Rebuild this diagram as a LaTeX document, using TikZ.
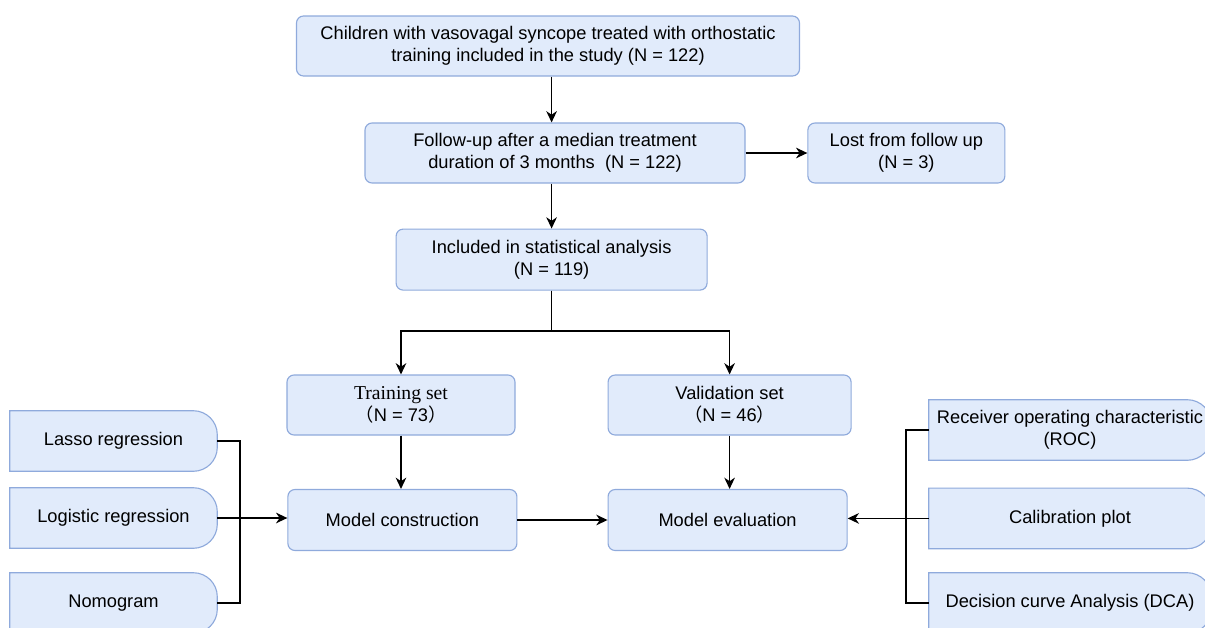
\documentclass[tikz,border=0pt]{standalone}
\usepackage{fontspec}
\setmainfont{Liberation Sans}
\newfontfamily\timesfont{Liberation Serif}
\newfontfamily\cjk{Noto Sans CJK SC}
\usepackage{xcolor}
\definecolor{BoxFill}{HTML}{E1EBFB}
\definecolor{BoxLine}{HTML}{8FAADC}
\usepackage{tikz}
\usetikzlibrary{arrows.meta, positioning, backgrounds, calc}
\tikzset{
  box/.style={
    rectangle, rounded corners=5pt,
    fill=BoxFill, draw=BoxLine, line width=0.8pt,
    minimum width=#1, minimum height=1.5cm,
    align=center, inner sep=2pt, font=\fontsize{13}{15.5}\selectfont
  },
  box/.default=5.7cm,
  sidebox/.style={
    rectangle, minimum width=#1, minimum height=1.5cm,
    align=center, inner sep=2pt, font=\fontsize{13}{15.5}\selectfont
  },
  sidebox/.default=5.175cm,
  line/.style={line width=1.2pt, color=black},
  arr/.style={-{Stealth[length=8pt, width=7.5pt, inset=2.5pt]}, line width=1.2pt, color=black},
}

\begin{document}
\begin{tikzpicture}
\useasboundingbox (0,0) rectangle (30.125,-15.7);

% Main flow
\node[box=12.575cm] at (13.7,-1.15) (study) {Children with vasovagal syncope treated with orthostatic\\training included in the study (N = 122)};
\node[box=9.5cm] at (13.875,-3.825) (follow) {Follow-up after a median treatment\\duration of 3 months\ \ (N = 122)};
\node[box=4.925cm] at (22.66,-3.825) (lost) {Lost from follow up\\(N = 3)};
\node[box=7.775cm, minimum height=1.525cm] at (13.79,-6.49) (incl) {Included in statistical analysis\\(N = 119)};

% Split
\node[box=5.7cm] at (10.025,-10.125) (train) {{\timesfont\fontsize{14}{15.5}\selectfont Training set}\\{\cjk （}N = 73{\cjk ）}};
\node[box=6.075cm] at (18.24,-10.125) (valid) {Validation set\\{\cjk （}N = 46{\cjk ）}};
\node[box=5.725cm, minimum height=1.525cm] at (10.06,-13.0) (build) {Model construction};
\node[box=5.975cm, minimum height=1.525cm] at (18.19,-13.0) (evalm) {Model evaluation};

% Methods (left) and metrics (right)
\node[sidebox] at (2.8375,-11.025) (lasso) {Lasso regression};
\node[sidebox] at (2.8375,-12.95) (logit) {Logistic regression};
\node[sidebox] at (2.8375,-15.075) (nomo) {Nomogram};
\node[sidebox=7.05cm] at (26.75,-10.75) (roc) {Receiver operating characteristic\\(ROC)};
\node[sidebox=7.05cm] at (26.75,-12.96) (calib) {Calibration plot};
\node[sidebox=7.05cm] at (26.75,-15.075) (dca) {Decision curve Analysis (DCA)};

\begin{scope}[on background layer]
\foreach \n in {lasso,logit,nomo,roc,calib,dca}
  \draw[fill=BoxFill, draw=BoxLine, line width=0.8pt]
    (\n.south west) -- (\n.north west) -- ($(\n.north east)+(-0.6,0)$)
    arc[start angle=90, end angle=0, radius=0.6cm]
    -- ($(\n.south east)+(0,0.6)$)
    arc[start angle=0, end angle=-90, radius=0.6cm] -- cycle;
\end{scope}

% Connectors
\draw[arr] (study.south -| incl.north) -- (follow.north -| incl.north);
\draw[arr] (follow.south -| incl.north) -- (incl.north);
\draw[arr] (follow.east) -- (lost.west);
\draw[arr] (incl.south) -- ++(0,-1) -| (train.north);
\draw[arr] (incl.south) -- ++(0,-1) -| (valid.north);
\draw[arr] (train.south) -- (train.south |- build.north);
\draw[arr] (valid.south) -- (valid.south |- evalm.north);
\draw[arr] (build.east) -- (evalm.west);

\draw[line] (lasso.east) -- ++(0.575,0) |- (nomo.east);
\draw[arr] (logit.east) -- (logit.east -| build.west);
\draw[line] (roc.west) -- ++(-0.575,0) |- (dca.west);
\draw[arr] (calib.west) -- (calib.west -| evalm.east);

\end{tikzpicture}
\end{document}
